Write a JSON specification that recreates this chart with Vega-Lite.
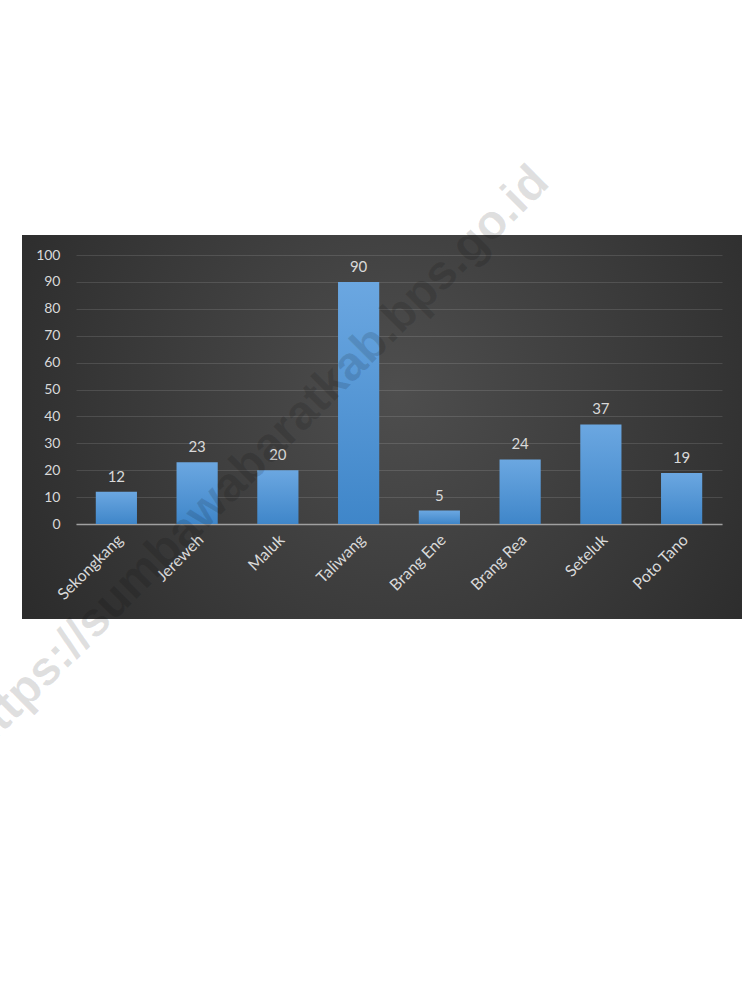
{
  "$schema": "https://vega.github.io/schema/vega-lite/v6.json",
  "autosize": "none",
  "width": 720,
  "height": 384,
  "padding": {"left": 22, "top": 235, "right": 13, "bottom": 386},
  "background": "white",
  "view": {
    "stroke": null,
    "fill": {
      "gradient": "radial",
      "x1": 0.52, "y1": 0.45, "r1": 0,
      "x2": 0.52, "y2": 0.45, "r2": 0.75,
      "stops": [
        {"offset": 0, "color": "#4e4e4e"},
        {"offset": 1, "color": "#232323"}
      ]
    }
  },
  "data": {
    "values": [
      {"kecamatan": "Sekongkang", "jumlah": 12},
      {"kecamatan": "Jereweh", "jumlah": 23},
      {"kecamatan": "Maluk", "jumlah": 20},
      {"kecamatan": "Taliwang", "jumlah": 90},
      {"kecamatan": "Brang Ene", "jumlah": 5},
      {"kecamatan": "Brang Rea", "jumlah": 24},
      {"kecamatan": "Seteluk", "jumlah": 37},
      {"kecamatan": "Poto Tano", "jumlah": 19}
    ]
  },
  "encoding": {
    "x": {
      "field": "kecamatan",
      "type": "nominal",
      "sort": null,
      "scale": {"range": [54, 700], "paddingInner": 0.49, "paddingOuter": 0.245},
      "axis": {
        "title": null,
        "orient": "bottom",
        "offset": -95,
        "labelAngle": -45,
        "labelAlign": "right",
        "labelBaseline": "middle",
        "labelPadding": 13,
        "labelOffset": 4,
        "labelFont": "Lato",
        "labelFontSize": 16,
        "labelColor": "#d9d9d9",
        "ticks": false,
        "domainColor": "#a0a0a0",
        "domainWidth": 1.5,
        "grid": false
      }
    },
    "y": {
      "field": "jumlah",
      "type": "quantitative",
      "scale": {"domain": [0, 100], "range": [289, 20], "nice": false},
      "axis": {
        "title": null,
        "values": [0, 10, 20, 30, 40, 50, 60, 70, 80, 90, 100],
        "offset": -42,
        "labelPadding": 4,
        "labelFont": "Lato",
        "labelFontSize": 14,
        "labelColor": "#d9d9d9",
        "ticks": false,
        "domain": false,
        "grid": true,
        "gridColor": "#ffffff",
        "gridOpacity": 0.12,
        "gridWidth": 1
      }
    }
  },
  "layer": [
    {
      "mark": {
        "type": "bar",
        "color": {
          "gradient": "linear",
          "x1": 0, "y1": 0, "x2": 0, "y2": 1,
          "stops": [
            {"offset": 0, "color": "#6ba7e1"},
            {"offset": 1, "color": "#3f86c9"}
          ]
        }
      }
    },
    {
      "mark": {
        "type": "text",
        "baseline": "alphabetic",
        "dy": -10,
        "font": "Lato",
        "fontSize": 15,
        "fill": "#d9d9d9"
      },
      "encoding": {"text": {"field": "jumlah", "type": "quantitative"}}
    },
    {
      "transform": [{"filter": "datum.kecamatan == 'Maluk'"}],
      "mark": {
        "type": "text",
        "text": "https://sumbawabaratkab.bps.go.id",
        "angle": 315,
        "align": "center",
        "baseline": "middle",
        "dx": -7.5,
        "dy": -22.8,
        "font": "Liberation Sans",
        "fontWeight": "bold",
        "fontSize": 48,
        "fill": "#000000",
        "fillOpacity": 0.12
      }
    }
  ]
}
